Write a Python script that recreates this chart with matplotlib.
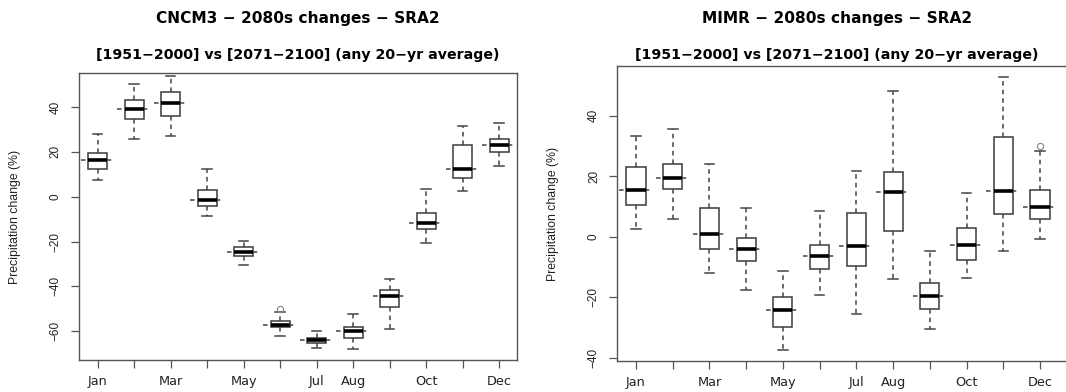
import matplotlib
matplotlib.use("Agg")
import matplotlib.pyplot as plt

months = ["Jan", "Feb", "Mar", "Apr", "May", "Jun", "Jul", "Aug", "Sep", "Oct", "Nov", "Dec"]
shown_labels = ["Jan", "", "Mar", "", "May", "", "Jul", "Aug", "", "Oct", "", "Dec"]

# CNCM3 panel
cn_whislo = [7.3, 25.6, 27.2, -8.7, -30.5, -62.0, -67.5, -67.7, -58.8, -20.8, 2.6, 13.7]
cn_q1 = [12.5, 34.8, 36.1, -4.2, -26.3, -58.3, -65.2, -63.1, -49.0, -14.6, 8.1, 19.7]
cn_med = [16.2, 39.2, 41.9, -1.7, -24.7, -57.1, -64.1, -59.8, -44.2, -11.8, 12.5, 23.2]
cn_q3 = [19.5, 43.2, 46.6, 2.9, -22.6, -55.2, -63.1, -57.9, -41.6, -7.3, 22.9, 25.9]
cn_whishi = [28.1, 50.0, 53.9, 12.4, -19.8, -51.2, -60.0, -52.2, -36.5, 3.5, 31.3, 32.8]
cn_fliers = [[], [], [], [], [], [-49.9], [], [], [], [], [], []]

# MIMR panel
mi_whislo = [2.6, 5.8, -12.1, -17.6, -37.5, -19.3, -25.5, -13.9, -30.5, -13.7, -4.7, -0.9]
mi_q1 = [10.5, 15.8, -4.1, -8.0, -29.8, -10.8, -9.6, 1.8, -23.8, -7.8, 7.4, 5.8]
mi_med = [15.4, 19.4, 1.0, -4.1, -24.2, -6.5, -3.0, 14.7, -19.6, -2.8, 15.1, 9.9]
mi_q3 = [22.9, 23.9, 9.4, -0.5, -20.0, -2.8, 7.8, 21.3, -15.2, 3.0, 33.0, 15.4]
mi_whishi = [33.3, 35.5, 24.1, 9.4, -11.4, 8.4, 21.8, 48.2, -4.7, 14.3, 52.8, 28.3]
mi_fliers = [[], [], [], [], [], [], [], [], [], [], [], [30.0]]

title_main = ["CNCM3 \u2212 2080s changes \u2212 SRA2", "MIMR \u2212 2080s changes \u2212 SRA2"]
title_sub = "[1951\u22122000] vs [2071\u22122100] (any 20\u2212yr average)"
ylabel = "Precipitation change (%)"

W, H = 1066, 392
fig = plt.figure(figsize=(W / 100, H / 100), dpi=100)

def px_axes(x0, x1, ytop, ybot):
    return fig.add_axes([x0 / W, (H - ybot) / H, (x1 - x0) / W, (ybot - ytop) / H])

EDGE = "#3a3a3a"
WHISK = "#444444"
SPINE = "#555555"
TXT = "#222222"

def draw(ax, whislo, q1, med, q3, whishi, fliers, ylim, yticks, xlim):
    stats = []
    for i in range(len(months)):
        stats.append(dict(med=med[i], q1=q1[i], q3=q3[i], whislo=whislo[i],
                          whishi=whishi[i], fliers=fliers[i], label=months[i]))
    pos = list(range(1, len(months) + 1))
    # dashed median guide lines
    ax.hlines(med, [p - 0.46 for p in pos], [p + 0.46 for p in pos],
              colors=WHISK, linestyles=(0, (3, 2.6)), linewidth=1.1, zorder=1)
    ax.bxp(stats, positions=pos, widths=0.52, patch_artist=True, showfliers=True,
           boxprops=dict(facecolor="white", edgecolor=EDGE, linewidth=1.1),
           medianprops=dict(color="black", linewidth=2.6, solid_capstyle="butt"),
           whiskerprops=dict(color=WHISK, linestyle=(0, (3, 2.6)), linewidth=1.1),
           capprops=dict(color=WHISK, linewidth=1.1),
           capwidths=0.26,
           flierprops=dict(marker="o", markersize=4.5, markerfacecolor="none",
                           markeredgecolor="#888888", markeredgewidth=0.8),
           zorder=2)
    ax.set_xlim(*xlim)
    ax.set_ylim(*ylim)
    ax.set_yticks(yticks)
    ax.set_xticks(pos)
    ax.set_xticklabels(shown_labels, fontfamily="DejaVu Sans", fontsize=9.3, color=TXT)
    for lab in ax.get_yticklabels():
        lab.set_rotation(90)
        lab.set_va("center")
        lab.set_fontfamily("Liberation Sans")
        lab.set_fontsize(8.5)
        lab.set_color(TXT)
    ax.tick_params(axis="y", length=5.5, width=0.9, color=SPINE, pad=7)
    ax.tick_params(axis="x", length=5.5, width=0.9, color=SPINE, pad=5)
    for s in ax.spines.values():
        s.set_color(SPINE)
        s.set_linewidth(1.0)

ax1 = px_axes(79, 517, 73, 360)
draw(ax1, cn_whislo, cn_q1, cn_med, cn_q3, cn_whishi, cn_fliers,
     (-72.8, 55.1), [-60, -40, -20, 0, 20, 40], (0.487, 12.49))

ax2 = px_axes(617.3, 1080, 66, 361)
draw(ax2, mi_whislo, mi_q1, mi_med, mi_q3, mi_whishi, mi_fliers,
     (-41.1, 56.4), [-40, -20, 0, 20, 40], (0.49, 12.49 + 22 / 36.73))

# titles and y labels placed in pixel coordinates
for cx, t in zip([298, 837], title_main):
    fig.text(cx / W, 1 - 19 / H, t, ha="center", va="center", fontsize=11.1,
             fontweight="bold", fontfamily="DejaVu Sans", color="black")
    fig.text(cx / W, 1 - 55 / H, title_sub, ha="center", va="center", fontsize=10.2,
             fontweight="bold", fontfamily="DejaVu Sans", color="black")
for lx, ly in [(15, 216.5), (553, 213.5)]:
    fig.text(lx / W, 1 - ly / H, ylabel, rotation=90, ha="center", va="center",
             fontsize=8.8, fontfamily="Liberation Sans", color=TXT)

fig.savefig("out.png", dpi=100)
